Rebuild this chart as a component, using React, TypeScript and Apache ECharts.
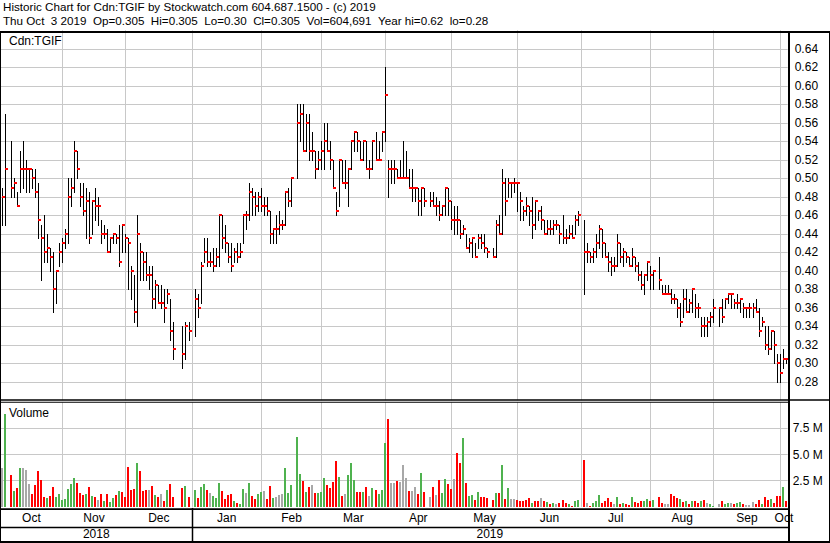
import React, { useEffect, useRef } from 'react';
import * as echarts from 'echarts';

const FONT = '"Liberation Sans", Arial, sans-serif';
const HEADER_SIZE = 11.65;

const titleLine1 = 'Historic Chart for Cdn:TGIF by Stockwatch.com 604.687.1500 - (c) 2019';
const titleLine2 = 'Thu Oct  3 2019  Op=0.305  Hi=0.305  Lo=0.30  Cl=0.305  Vol=604,691  Year hi=0.62  lo=0.28';
const symbolLabel = 'Cdn:TGIF';
const volumeLabel = 'Volume';

const firstDate = '2018-10-04';
const lastDate = '2019-10-03';
const holidays = ['2018-10-08', '2018-12-25', '2018-12-26', '2019-01-01', '2019-02-18', '2019-04-19', '2019-05-20', '2019-07-01', '2019-08-05', '2019-09-02'];
const monthStarts = ['2018-11-01', '2018-12-01', '2019-01-01', '2019-02-01', '2019-03-01', '2019-04-01', '2019-05-01', '2019-06-01', '2019-07-01', '2019-08-01', '2019-09-01', '2019-10-01'];
const monthLabels = ['Oct', 'Nov', 'Dec', 'Jan', 'Feb', 'Mar', 'Apr', 'May', 'Jun', 'Jul', 'Aug', 'Sep', 'Oct'];
const yearStart = '2019-01-01';
const yearLabels = ['2018', '2019'];

const priceMin = 0.26;
const priceMax = 0.66;
const priceStep = 0.02;
const volMax = 10;
const volStep = 2.5;

// daily high / low / close (CAD), trading days in order
const high = [
  // Oct 2018
  0.49, 0.57, 0.54, 0.50, 0.485, 0.53, 0.54, 0.52, 0.51, 0.51, 0.51, 0.495, 0.45, 0.46, 0.44, 0.425, 0.42, 0.40, 0.43,
  // Nov
  0.435, 0.445, 0.50, 0.50, 0.54, 0.53, 0.495, 0.495, 0.49, 0.485, 0.475, 0.49, 0.48, 0.455, 0.45, 0.445, 0.435, 0.44, 0.44, 0.45, 0.45, 0.44,
  // Dec
  0.435, 0.405, 0.395, 0.46, 0.43, 0.42, 0.42, 0.405, 0.405, 0.39, 0.385, 0.385, 0.38, 0.38, 0.37, 0.345, 0.34, 0.345, 0.345,
  // Jan 2019
  0.38, 0.375, 0.41, 0.435, 0.435, 0.42, 0.425, 0.425, 0.46, 0.46, 0.45, 0.43, 0.43, 0.425, 0.43, 0.43, 0.46, 0.465, 0.495, 0.49, 0.485, 0.485,
  // Feb
  0.49, 0.48, 0.48, 0.465, 0.445, 0.46, 0.465, 0.455, 0.485, 0.49, 0.50, 0.58, 0.58, 0.58, 0.57, 0.57, 0.55, 0.53, 0.53,
  // Mar
  0.54, 0.56, 0.56, 0.54, 0.52, 0.485, 0.52, 0.52, 0.52, 0.51, 0.54, 0.55, 0.55, 0.54, 0.54, 0.54, 0.52, 0.54, 0.55, 0.54, 0.55,
  // Apr
  0.62, 0.52, 0.52, 0.52, 0.51, 0.52, 0.54, 0.53, 0.51, 0.51, 0.49, 0.49, 0.49, 0.49, 0.485, 0.485, 0.48, 0.475, 0.47, 0.49, 0.49,
  // May
  0.475, 0.47, 0.47, 0.455, 0.45, 0.44, 0.435, 0.435, 0.43, 0.44, 0.44, 0.44, 0.425, 0.425, 0.455, 0.46, 0.51, 0.50, 0.50, 0.495, 0.50, 0.495,
  // Jun
  0.485, 0.47, 0.48, 0.47, 0.48, 0.475, 0.465, 0.47, 0.455, 0.455, 0.455, 0.455, 0.455, 0.45, 0.46, 0.445, 0.45, 0.45, 0.46, 0.465,
  // Jul
  0.455, 0.43, 0.42, 0.425, 0.44, 0.45, 0.445, 0.43, 0.42, 0.415, 0.415, 0.44, 0.43, 0.425, 0.42, 0.415, 0.425, 0.415, 0.41, 0.40, 0.395, 0.41,
  // Aug
  0.405, 0.40, 0.415, 0.385, 0.385, 0.385, 0.38, 0.375, 0.37, 0.365, 0.38, 0.38, 0.37, 0.38, 0.375, 0.365, 0.35, 0.35, 0.35, 0.355, 0.37,
  // Sep
  0.36, 0.37, 0.37, 0.375, 0.375, 0.37, 0.375, 0.37, 0.365, 0.36, 0.365, 0.365, 0.37, 0.36, 0.35, 0.34, 0.34, 0.335, 0.335, 0.31,
  // Oct 2019
  0.31, 0.315, 0.305,
];

const low = [
  0.45, 0.45, 0.48, 0.48, 0.47, 0.485, 0.49, 0.485, 0.485, 0.49, 0.48, 0.435, 0.39, 0.41, 0.41, 0.40, 0.355, 0.365, 0.405,
  0.41, 0.425, 0.43, 0.47, 0.485, 0.50, 0.47, 0.46, 0.435, 0.43, 0.44, 0.455, 0.45, 0.43, 0.435, 0.42, 0.42, 0.43, 0.43, 0.405, 0.42, 0.42,
  0.38, 0.37, 0.345, 0.34, 0.39, 0.39, 0.39, 0.38, 0.36, 0.36, 0.365, 0.36, 0.345, 0.365, 0.325, 0.305, 0.295, 0.305, 0.325,
  0.33, 0.35, 0.365, 0.41, 0.405, 0.405, 0.40, 0.405, 0.405, 0.425, 0.42, 0.41, 0.40, 0.41, 0.41, 0.415, 0.43, 0.445, 0.455, 0.46, 0.46, 0.465,
  0.465, 0.46, 0.46, 0.43, 0.43, 0.43, 0.44, 0.445, 0.45, 0.47, 0.47, 0.50, 0.54, 0.53, 0.53, 0.52, 0.52, 0.50, 0.51,
  0.51, 0.51, 0.53, 0.51, 0.49, 0.46, 0.47, 0.495, 0.49, 0.47, 0.51, 0.53, 0.53, 0.52, 0.52, 0.51, 0.50, 0.51, 0.52, 0.52, 0.53,
  0.54, 0.48, 0.495, 0.495, 0.50, 0.50, 0.50, 0.50, 0.49, 0.475, 0.475, 0.46, 0.46, 0.47, 0.47, 0.47, 0.46, 0.455, 0.46, 0.46, 0.46,
  0.445, 0.44, 0.44, 0.435, 0.44, 0.425, 0.42, 0.415, 0.415, 0.425, 0.425, 0.42, 0.415, 0.415, 0.415, 0.44, 0.44, 0.46, 0.48, 0.48, 0.485, 0.465,
  0.455, 0.455, 0.46, 0.45, 0.435, 0.445, 0.455, 0.445, 0.44, 0.44, 0.44, 0.44, 0.445, 0.43, 0.43, 0.43, 0.435, 0.435, 0.44, 0.45,
  0.375, 0.41, 0.41, 0.41, 0.415, 0.425, 0.415, 0.415, 0.40, 0.395, 0.40, 0.405, 0.41, 0.405, 0.41, 0.405, 0.405, 0.40, 0.39, 0.38, 0.375, 0.39,
  0.38, 0.38, 0.38, 0.375, 0.375, 0.375, 0.365, 0.365, 0.35, 0.34, 0.35, 0.355, 0.355, 0.355, 0.35, 0.35, 0.33, 0.33, 0.33, 0.34, 0.345,
  0.34, 0.345, 0.36, 0.365, 0.36, 0.36, 0.36, 0.355, 0.35, 0.35, 0.35, 0.35, 0.355, 0.33, 0.34, 0.315, 0.31, 0.315, 0.30, 0.28,
  0.28, 0.295, 0.30,
];

const close = [
  0.48, 0.51, 0.49, 0.495, 0.47, 0.51, 0.51, 0.51, 0.51, 0.50, 0.485, 0.455, 0.435, 0.42, 0.425, 0.415, 0.38, 0.40, 0.42,
  0.43, 0.44, 0.48, 0.49, 0.53, 0.51, 0.48, 0.465, 0.475, 0.435, 0.475, 0.47, 0.47, 0.44, 0.44, 0.42, 0.435, 0.44, 0.435, 0.41, 0.45, 0.435,
  0.43, 0.40, 0.355, 0.44, 0.42, 0.41, 0.395, 0.395, 0.37, 0.385, 0.365, 0.365, 0.36, 0.375, 0.335, 0.315, 0.31, 0.34, 0.335,
  0.37, 0.36, 0.405, 0.42, 0.41, 0.41, 0.405, 0.415, 0.46, 0.435, 0.43, 0.415, 0.405, 0.42, 0.415, 0.42, 0.46, 0.46, 0.485, 0.48, 0.47, 0.48,
  0.47, 0.47, 0.465, 0.44, 0.445, 0.445, 0.45, 0.45, 0.485, 0.475, 0.50, 0.56, 0.57, 0.53, 0.56, 0.53, 0.53, 0.51, 0.52,
  0.53, 0.54, 0.53, 0.52, 0.49, 0.465, 0.52, 0.495, 0.495, 0.51, 0.54, 0.55, 0.54, 0.52, 0.54, 0.51, 0.51, 0.54, 0.52, 0.52, 0.55,
  0.59, 0.51, 0.51, 0.51, 0.50, 0.50, 0.50, 0.50, 0.49, 0.49, 0.49, 0.475, 0.49, 0.475, 0.475, 0.47, 0.47, 0.46, 0.47, 0.49, 0.475,
  0.455, 0.455, 0.455, 0.44, 0.445, 0.425, 0.43, 0.435, 0.415, 0.435, 0.43, 0.425, 0.42, 0.415, 0.45, 0.44, 0.495, 0.475, 0.495, 0.495, 0.495, 0.495,
  0.475, 0.465, 0.47, 0.465, 0.45, 0.475, 0.465, 0.455, 0.44, 0.445, 0.445, 0.45, 0.45, 0.44, 0.435, 0.435, 0.44, 0.435, 0.455, 0.46,
  0.42, 0.42, 0.415, 0.42, 0.43, 0.445, 0.43, 0.415, 0.41, 0.405, 0.405, 0.43, 0.415, 0.42, 0.415, 0.405, 0.415, 0.405, 0.395, 0.385, 0.395, 0.41,
  0.395, 0.40, 0.39, 0.375, 0.375, 0.375, 0.37, 0.37, 0.36, 0.345, 0.37, 0.355, 0.365, 0.38, 0.36, 0.36, 0.34, 0.34, 0.345, 0.35, 0.36,
  0.36, 0.35, 0.37, 0.375, 0.375, 0.365, 0.365, 0.37, 0.36, 0.36, 0.36, 0.36, 0.355, 0.335, 0.345, 0.32, 0.315, 0.335, 0.32, 0.30,
  0.29, 0.305, 0.305,
];

// daily volume, millions of shares
const volume = [
  3.7, 8.9, 3.0, 1.5, 1.8, 3.7, 3.7, 3.5, 2.2, 1.2, 2.1, 3.4, 2.55, 0.95, 0.85, 1.05, 1.9, 0.95, 1.2,
  0.65, 0.75, 1.7, 2.2, 2.75, 2.3, 1.3, 1.1, 1.2, 1.9, 1.05, 0.95, 0.65, 1.2, 0.55, 1.2, 0.45, 0.85, 1.1, 1.5, 1.4, 0.95,
  3.8, 1.6, 1.7, 4.2, 3.4, 1.5, 1.6, 1.6, 2.0, 1.1, 0.95, 1.2, 0.55, 1.6, 2.2, 0.95, 1.8, 2.0, 0.95,
  1.6, 0.85, 1.9, 2.2, 1.6, 1.3, 1.05, 0.85, 2.3, 1.5, 0.75, 1.1, 1.2, 0.55, 0.4, 0.3, 1.7, 1.3, 2.3, 1.05, 0.75, 1.2,
  1.4, 1.5, 0.75, 2.0, 0.85, 0.95, 1.1, 1.2, 3.7, 1.3, 2.1, 6.7, 3.1, 2.5, 1.4, 1.9, 2.1, 1.3, 1.3,
  1.4, 2.8, 2.1, 1.8, 2.4, 4.35, 2.9, 1.05, 1.2, 3.0, 4.2, 2.55, 1.4, 1.4, 1.4, 1.9, 1.05, 1.8, 1.6, 1.2, 1.6,
  6.05, 8.4, 2.3, 2.3, 2.5, 2.4, 4.0, 2.75, 1.5, 1.5, 1.9, 1.2, 3.2, 1.4, 0.95, 1.9, 1.1, 2.55, 1.3, 2.65, 2.2,
  1.7, 2.65, 5.1, 4.2, 6.6, 2.3, 1.05, 1.1, 0.65, 1.4, 0.95, 0.95, 0.85, 0.65, 1.3, 1.3, 4.0, 0.75, 1.8, 0.75, 0.75, 0.65,
  0.55, 0.55, 0.65, 0.85, 0.4, 0.55, 0.55, 0.85, 0.55, 0.45, 0.3, 0.4, 0.3, 0.4, 0.65, 0.4, 0.3, 0.1, 0.55, 0.65,
  4.45, 0.4, 0.1, 0.4, 0.55, 1.1, 0.4, 0.55, 0.85, 0.45, 0.3, 0.95, 0.3, 0.4, 0.3, 0.2, 0.95, 0.45, 0.4, 0.55, 0.55, 0.75,
  0.55, 0.65, 0.95, 0.4, 0.3, 0.3, 1.2, 1.05, 0.85, 0.75, 0.45, 0.55, 0.3, 0.55, 0.55, 0.4, 0.55, 0.65, 0.4, 0.3, 0.1,
  0.3, 0.55, 0.3, 0.4, 0.4, 0.3, 0.4, 0.45, 0.3, 0.2, 0.2, 0.45, 0.3, 0.65, 0.3, 0.95, 0.65, 0.75, 0.4, 1.05,
  1.05, 1.9, 0.6,
];

// volume bar direction per trading day: u = up, d = down, n = unchanged (groups of five)
const volDirOct18 = ['nudud', 'unnnd', 'ddddu', 'dduu'];
const volDirNov = ['uuuuu', 'dddud', 'udndu', 'duudu', 'dd'];
const volDirDec = ['dddud', 'ddndu', 'dndud', 'ddud'];
const volDirJan = ['uduud', 'nuuud', 'dddud', 'uunud', 'du'];
const volDirFeb = ['unddu', 'nnnuu', 'uuudu', 'dndu'];
const volDirMar = ['uuddd', 'dudnu', 'uuddu', 'dnudu', 'u'];
const volDirApr = ['udnnd', 'nnndn', 'ndudn', 'dnduu', 'd'];
const volDirMay = ['dnddu', 'duudu', 'ddddu', 'dudun', 'nd'];
const volDirJun = ['ddddu', 'ddndu', 'dundd', 'duduu'];
const volDirJul = ['dnduu', 'udddd', 'nudud', 'duddd', 'uu'];
const volDirAug = ['duddn', 'ndddu', 'dudud', 'dudnu', 'u'];
const volDirSep = ['nduun', 'duudn', 'nnddu', 'ddudd'];
const volDirOct19 = ['dud'];

const volDir = [
  volDirOct18, volDirNov, volDirDec, volDirJan, volDirFeb, volDirMar, volDirApr,
  volDirMay, volDirJun, volDirJul, volDirAug, volDirSep, volDirOct19,
].map((m) => m.join('')).join('').split('');

const COLORS: Record<string, string> = { u: '#4fb24f', d: '#ff0000', n: '#a8a8a8' };

function buildWeekdays(): string[] {
  const out: string[] = [];
  const [y0, m0, d0] = firstDate.split('-').map(Number);
  const [y1, m1, d1] = lastDate.split('-').map(Number);
  let t = Date.UTC(y0, m0 - 1, d0);
  const end = Date.UTC(y1, m1 - 1, d1);
  while (t <= end) {
    const d = new Date(t);
    const wd = d.getUTCDay();
    if (wd !== 0 && wd !== 6) out.push(d.toISOString().slice(0, 10));
    t += 86400000;
  }
  return out;
}

// lay out a header line whose words are separated by padded (double) spaces
function headerTokens(line: string, x0: number, y: number, fontSize: number) {
  const canvas = document.createElement('canvas');
  const ctx = canvas.getContext('2d');
  const font = `${fontSize}px ${FONT}`;
  const measure = (s: string) => {
    if (!ctx) return s.length * fontSize * 0.55;
    ctx.font = font;
    return ctx.measureText(s).width;
  };
  const parts = line.split('  ');
  const gap = measure(' ') * 2;
  const els: any[] = [];
  let x = x0;
  parts.forEach((p) => {
    els.push({
      type: 'text', z: 100, x, y,
      style: { text: p, fill: '#000', fontFamily: FONT, fontSize, verticalAlign: 'middle' },
    });
    x += measure(p) + gap;
  });
  return els;
}

const App: React.FC = () => {
  const ref = useRef<HTMLDivElement>(null);

  useEffect(() => {
    document.body.style.margin = '0';
    if (!ref.current) return;
    const chart = echarts.init(ref.current, null, { renderer: 'svg', width: 830, height: 543 });

    const days = buildWeekdays();
    const N = days.length;
    const tradingSlots = days.map((d, i) => (holidays.includes(d) ? -1 : i)).filter((i) => i >= 0);
    const count = Math.min(tradingSlots.length, high.length, low.length, close.length, volume.length);

    const lastSlotOnOrBefore = (date: string) => {
      let idx = 0;
      for (let i = 0; i < N; i++) if (days[i] <= date) idx = i;
      return idx;
    };
    const monthLines = monthStarts.map(lastSlotOnOrBefore);
    const yearLine = lastSlotOnOrBefore(yearStart);
    const bounds = [-0.5, ...monthLines, N - 0.5];

    type DateItem = { pos: number; text: string; kind: 'month' | 'year' | 'sep' };
    const dateItems: DateItem[] = [];
    monthLabels.forEach((m, i) => dateItems.push({ pos: (bounds[i] + bounds[i + 1]) / 2, text: m, kind: 'month' }));
    dateItems.push({ pos: (-0.5 + yearLine) / 2, text: yearLabels[0], kind: 'year' });
    dateItems.push({ pos: (yearLine + N - 0.5) / 2, text: yearLabels[1], kind: 'year' });
    dateItems.push({ pos: yearLine, text: '', kind: 'sep' });

    const priceData: number[][] = [];
    const volData: number[][] = [];
    for (let i = 0; i < count; i++) {
      priceData.push([tradingSlots[i], high[i], low[i], close[i]]);
      volData.push([tradingSlots[i], volume[i], i]);
    }

    const gridLineSeries = (idx: number) => ({
      type: 'custom',
      xAxisIndex: idx,
      yAxisIndex: idx,
      silent: true,
      z: 1,
      data: monthLines.map((s) => [s, 0]),
      renderItem: (params: any, api: any) => {
        const cs = params.coordSys;
        const p = api.coord([api.value(0), idx === 0 ? priceMin : 0]);
        const x = Math.floor(p[0]) + 0.5;
        return {
          type: 'line',
          shape: { x1: x, y1: cs.y, x2: x, y2: cs.y + cs.height },
          style: { stroke: '#c8c8c8', lineWidth: 1 },
        };
      },
    });

    const labelStyle = { color: '#000', fontFamily: FONT, fontSize: 12 };

    chart.setOption({
      animation: false,
      backgroundColor: '#fff',
      grid: [
        { left: 0.5, top: 30.3, width: 787.2, height: 370 },
        { left: 0.5, top: 402.1, width: 787.2, height: 104.8 },
      ],
      xAxis: [
        { type: 'value', gridIndex: 0, min: -0.5, max: N - 0.5, show: false },
        { type: 'value', gridIndex: 1, min: -0.5, max: N - 0.5, show: false },
      ],
      yAxis: [
        {
          type: 'value', gridIndex: 0, position: 'right', min: priceMin, max: priceMax, interval: priceStep,
          axisLine: { show: false }, axisTick: { show: false },
          splitLine: { show: true, showMinLine: false, showMaxLine: false, lineStyle: { color: '#c8c8c8', width: 1 } },
          axisLabel: {
            ...labelStyle, margin: 7, align: 'left',
            formatter: (v: number) => (v < priceMin + 0.005 || v > priceMax - 0.005 ? '' : v.toFixed(2)),
          },
        },
        {
          type: 'value', gridIndex: 1, position: 'right', min: 0, max: volMax, interval: volStep,
          axisLine: { show: false }, axisTick: { show: false },
          splitLine: { show: true, showMinLine: false, showMaxLine: false, lineStyle: { color: '#c8c8c8', width: 1 } },
          axisLabel: {
            ...labelStyle, margin: 5, align: 'left',
            formatter: (v: number) => (v <= 0 || v >= volMax ? '' : v.toFixed(1) + ' M'),
          },
        },
      ],
      series: [
        gridLineSeries(0),
        gridLineSeries(1),
        {
          type: 'custom',
          name: 'Volume',
          xAxisIndex: 1,
          yAxisIndex: 1,
          z: 2,
          clip: true,
          data: volData,
          renderItem: (params: any, api: any) => {
            const x = api.value(0);
            const p0 = api.coord([x, 0]);
            const p1 = api.coord([x, api.value(1)]);
            const dir = volDir[api.value(2)] || 'n';
            const top = Math.round(p1[1]);
            const bottom = p0[1] + 1.5;
            return {
              type: 'rect',
              shape: { x: Math.floor(p0[0]) - 1, y: top, width: 2, height: bottom - top },
              style: { fill: COLORS[dir] },
            };
          },
        },
        {
          type: 'custom',
          name: 'Cdn:TGIF',
          xAxisIndex: 0,
          yAxisIndex: 0,
          z: 3,
          clip: true,
          data: priceData,
          renderItem: (params: any, api: any) => {
            const x = api.value(0);
            const ph = api.coord([x, api.value(1)]);
            const pl = api.coord([x, api.value(2)]);
            const pc = api.coord([x, api.value(3)]);
            const lx = Math.floor(ph[0]);
            return {
              type: 'group',
              children: [
                {
                  type: 'line',
                  shape: { x1: lx + 0.5, y1: Math.round(ph[1]), x2: lx + 0.5, y2: Math.round(pl[1]) + 1 },
                  style: { stroke: '#000', lineWidth: 1 },
                },
                {
                  type: 'rect',
                  shape: { x: lx, y: Math.round(pc[1]) - 1, width: 3, height: 2 },
                  style: { fill: '#ff0000' },
                },
              ],
            };
          },
        },
        {
          type: 'custom',
          xAxisIndex: 1,
          yAxisIndex: 1,
          z: 5,
          clip: false,
          silent: true,
          data: dateItems.map((d) => [d.pos, 0]),
          renderItem: (params: any, api: any) => {
            const item = dateItems[params.dataIndex];
            const cs = params.coordSys;
            const p = api.coord([item.pos, 0]);
            const bottom = cs.y + cs.height;
            if (item.kind === 'sep') {
              const x = Math.floor(p[0]) + 0.5;
              return {
                type: 'line',
                shape: { x1: x, y1: bottom + 1, x2: x, y2: bottom + 36 },
                style: { stroke: '#000', lineWidth: 1.5 },
              };
            }
            return {
              type: 'text',
              x: p[0],
              y: bottom + (item.kind === 'month' ? 11 : 27),
              style: {
                text: item.text, align: 'center', verticalAlign: 'middle',
                fill: '#000', fontFamily: FONT, fontSize: 12,
              },
            };
          },
        },
      ],
      graphic: [
        { type: 'rect', z: 100, shape: { x: 0, y: 31, width: 830, height: 2 }, style: { fill: '#000' } },
        { type: 'rect', z: 100, shape: { x: 0, y: 31, width: 1, height: 512 }, style: { fill: '#000' } },
        { type: 'rect', z: 100, shape: { x: 788, y: 31, width: 2, height: 512 }, style: { fill: '#000' } },
        { type: 'rect', z: 100, shape: { x: 829, y: 31, width: 1, height: 512 }, style: { fill: '#000' } },
        { type: 'rect', z: 100, shape: { x: 0, y: 399.3, width: 830, height: 1.5 }, style: { fill: '#000' } },
        { type: 'rect', z: 100, shape: { x: 0, y: 401.7, width: 789, height: 1 }, style: { fill: '#000' } },
        { type: 'rect', z: 100, shape: { x: 0, y: 508.3, width: 790, height: 1.7 }, style: { fill: '#000' } },
        { type: 'rect', z: 100, shape: { x: 0, y: 526.7, width: 790, height: 1.5 }, style: { fill: '#000' } },
        { type: 'rect', z: 100, shape: { x: 0, y: 541, width: 830, height: 2 }, style: { fill: '#000' } },
        { type: 'text', z: 100, x: 3, y: 6.5, style: { text: titleLine1, fill: '#000', fontFamily: FONT, fontSize: HEADER_SIZE, verticalAlign: 'middle' } },
        ...headerTokens(titleLine2, 3, 20.5, HEADER_SIZE),
        { type: 'text', z: 100, x: 9, y: 41, style: { text: symbolLabel, fill: '#000', fontFamily: FONT, fontSize: 12, verticalAlign: 'middle' } },
        { type: 'text', z: 100, x: 9, y: 413, style: { text: volumeLabel, fill: '#000', fontFamily: FONT, fontSize: 12, verticalAlign: 'middle' } },
      ],
    });

    return () => chart.dispose();
  }, []);

  return <div ref={ref} style={{ position: 'absolute', left: 0, top: 0, width: 830, height: 543 }} />;
};

export default App;
